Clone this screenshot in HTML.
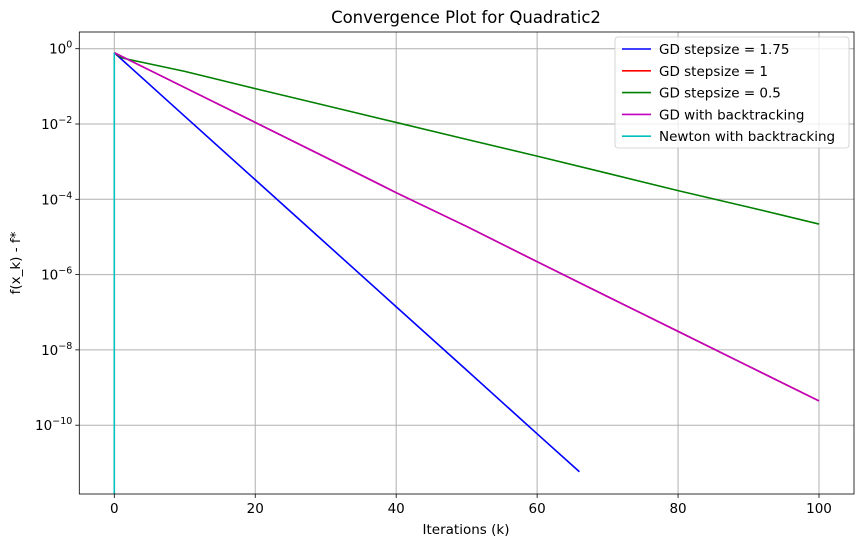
<!DOCTYPE html>
<html><head><meta charset="utf-8"><style>
body{margin:0;background:#fff;}
svg{font-family:"DejaVu Sans","Liberation Sans",sans-serif;display:block}
</style></head><body>
<svg id="chart" width="864" height="547"></svg>
<script>
const blueX=[0,10,20,30,40,50,60,66];
const blueY=[0.78,1.6e-2,3.3e-4,6.8e-6,1.4e-7,2.9e-9,5.9e-11,5.8e-12];
const greenX=[0,1,2,10,20,30,40,50,60,70,80,90,100];
const greenY=[0.78,0.58,0.52,0.25,8.7e-2,3.1e-2,1.1e-2,3.9e-3,1.4e-3,4.9e-4,1.7e-4,6.2e-5,2.2e-5];
const magX=[0,10,20,30,40,50,60,70,80,90,100];
const magY=[0.78,9.3e-2,1.1e-2,1.3e-3,1.5e-4,1.9e-5,2.2e-6,2.6e-7,3.1e-8,3.7e-9,4.4e-10];
const redX=magX.slice();
const redY=magY.slice();
const newtonX=[0,0];
const newtonY=[0.78,1e-16];
const xTicks=[0,20,40,60,80,100];
const yTickExps=[0,-2,-4,-6,-8,-10];
const legendLabels=["GD stepsize = 1.75","GD stepsize = 1","GD stepsize = 0.5","GD with backtracking","Newton with backtracking"];
const legendColors=["#0000ff","#ff0000","#008000","#bf00bf","#00bfbf"];

const L=79.3,R=854,T=32,B=494;
const xs=v=>114.3+(v-0)*(819-114.3)/100;
const ys=v=>48.7-Math.log10(v)*37.65;
const NS="http://www.w3.org/2000/svg";
const svg=document.getElementById('chart');
function mk(tag,attrs,parent){const e=document.createElementNS(NS,tag);for(const k in attrs)e.setAttribute(k,attrs[k]);(parent||svg).appendChild(e);return e;}

const defs=mk('defs',{});
const cp=mk('clipPath',{id:'clip'},defs);
mk('rect',{x:L,y:T,width:R-L,height:B-T},cp);

const title=mk('text',{x:466,y:23,'text-anchor':'middle','font-size':16.5});
title.textContent='Convergence Plot for Quadratic2';



xTicks.forEach(t=>{
  const x=xs(t);
  const g=mk('line',{x1:x,x2:x,y1:T,y2:B,stroke:'#b0b0b0','stroke-width':1});
  
  
  mk('line',{x1:x,x2:x,y1:B,y2:B+4,stroke:'#000','stroke-width':0.8});
  const tx=mk('text',{x:x,y:B+19,'text-anchor':'middle','font-size':13.5});
  tx.textContent=t;
  
  
});
yTickExps.forEach(e=>{
  const y=ys(Math.pow(10,e));
  const g=mk('line',{x1:L,x2:R,y1:y,y2:y,stroke:'#b0b0b0','stroke-width':1});
  
  
  mk('line',{x1:L-4,x2:L,y1:y,y2:y,stroke:'#000','stroke-width':0.8});
  const tx=mk('text',{x:L-7,y:y+5,'text-anchor':'end','font-size':13.5});
  
  
  tx.appendChild(document.createTextNode('10'));
  const sp=mk('tspan',{dy:-6,'font-size':9.5},tx);
  sp.textContent=e===0?'0':'\u2212'+(-e);
});

function series(X,Y,color,name){
  const d=X.map((x,i)=>(i?'L':'M')+xs(x).toFixed(2)+','+ys(Y[i]).toFixed(2)).join(' ');
  const p=mk('path',{d:d,fill:'none',stroke:color,'stroke-width':1.6,'clip-path':'url(#clip)'});
  
  
}
series(blueX,blueY,legendColors[0],'series-gd-1-75');
series(redX,redY,legendColors[1],'series-gd-1');
series(greenX,greenY,legendColors[2],'series-gd-0-5');
series(magX,magY,legendColors[3],'series-gd-backtracking');
series(newtonX,newtonY,legendColors[4],'series-newton-backtracking');

const frame=mk('rect',{x:L,y:T,width:R-L,height:B-T,fill:'none',stroke:'#000','stroke-width':0.8});



const xl=mk('text',{x:466,y:534,'text-anchor':'middle','font-size':13.5});
xl.textContent='Iterations (k)';


const yl=mk('text',{x:20,y:263,'text-anchor':'middle','font-size':13.5,transform:'rotate(-90 20 263)'});
yl.textContent='f(x_k) - f*';



const lg=mk('g',{});


mk('rect',{x:615,y:37,width:234,height:111,rx:3,fill:'#fff','fill-opacity':0.8,stroke:'#ccc','stroke-width':0.8},lg);
legendLabels.forEach((lab,i)=>{
  const y=49+i*21.8;
  const ent=mk('g',{},lg);
  
  
  mk('line',{x1:622,x2:651,y1:y,y2:y,stroke:legendColors[i],'stroke-width':1.6},ent);
  const t=mk('text',{x:659,y:y+5,'font-size':13.5},ent);
  t.textContent=lab;
});
</script>
</body></html>
